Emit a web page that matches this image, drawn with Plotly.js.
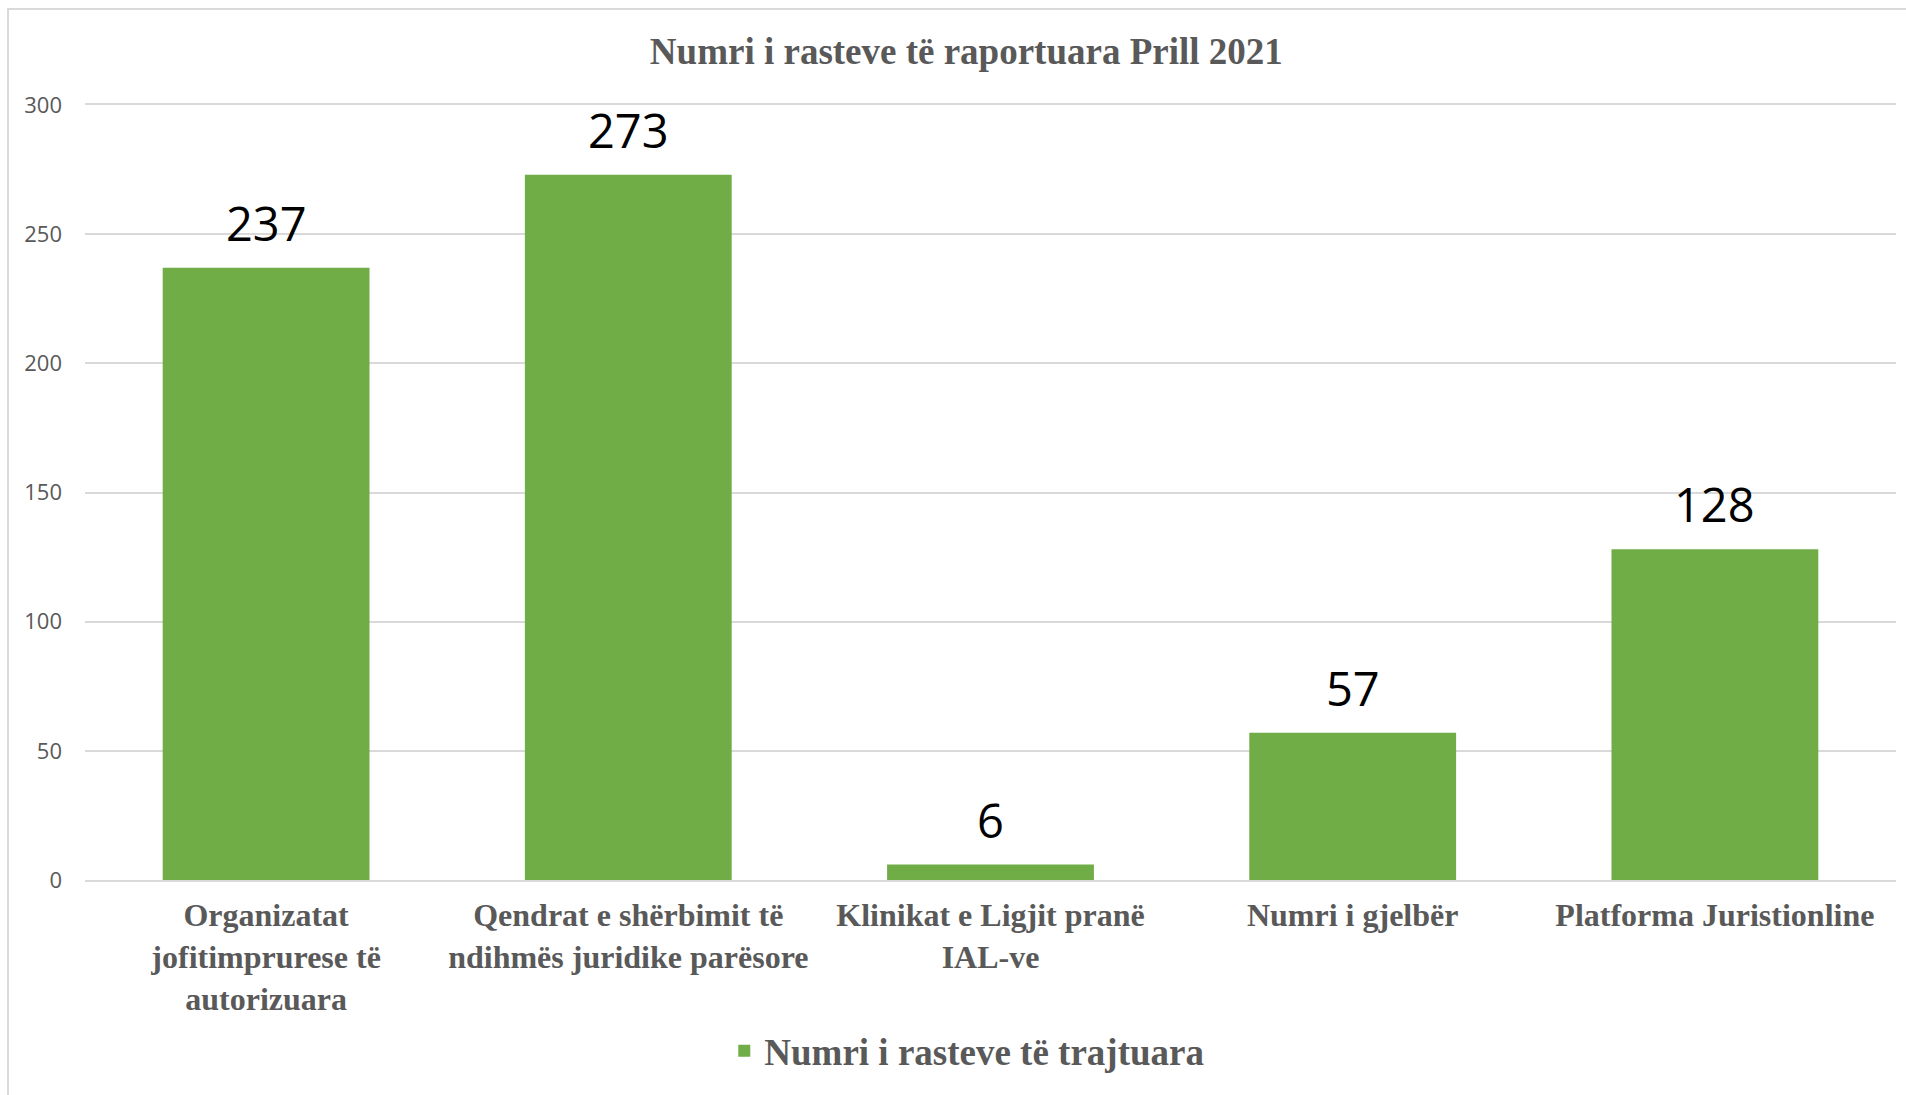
<!DOCTYPE html>
<html>
<head>
<meta charset="utf-8">
<script src="https://cdn.plot.ly/plotly-3.0.1.min.js"></script>
<style>
  html, body { margin: 0; padding: 0; background: #ffffff; overflow: hidden; }
  #chart { position: absolute; left: 0; top: 0; width: 1906px; height: 1095px; }
  #frame { position: absolute; left: 7px; top: 8px; width: 1940px; height: 1140px;
           border: 2px solid #d9d9d9; pointer-events: none; box-sizing: border-box; }
</style>
</head>
<body>
<div id="chart"></div>
<div id="frame"></div>
<script>
// ---- data ----
const categories = [
  "Organizatat<br>jofitimprurese të<br>autorizuara",
  "Qendrat e shërbimit të<br>ndihmës juridike parësore",
  "Klinikat e Ligjit pranë<br>IAL-ve",
  "Numri i gjelbër",
  "Platforma Juristionline"
];
const values = [237, 273, 6, 57, 128];
const seriesName = "Numri i rasteve të trajtuara";
const chartTitle = "Numri i rasteve të raportuara Prill 2021";
const yTicks = [0, 50, 100, 150, 200, 250, 300];

// ---- styles ----
const green = "#70ad47";
const grey = "#595959";
const serif = "'Liberation Serif', 'Times New Roman', serif";
const sans = "'Open Sans', 'Noto Sans', sans-serif";

const trace = {
  type: "bar",
  x: categories,
  y: values,
  name: seriesName,
  marker: { color: green, line: { width: 0 } },
  showlegend: true,
  hoverinfo: "skip"
};

const annotations = categories.map((c, i) => ({
  x: c,
  y: values[i],
  xref: "x",
  yref: "y",
  text: String(values[i]),
  showarrow: false,
  yanchor: "bottom",
  yshift: 11,
  font: { family: sans, size: 47, color: "#000000" }
}));

const layout = {
  width: 1906,
  height: 1095,
  paper_bgcolor: "#ffffff",
  plot_bgcolor: "#ffffff",
  margin: { l: 85, r: 10, t: 105, b: 215, pad: 0 },
  bargap: 0.429,
  title: {
    text: chartTitle,
    font: { family: serif, size: 37, color: grey, weight: "bold" },
    xref: "container",
    x: 0.507,
    xanchor: "center",
    yref: "container",
    y: 0.9534,
    yanchor: "middle"
  },
  xaxis: {
    type: "category",
    showgrid: false,
    showline: true,
    mirror: true,
    linecolor: "#d9d9d9",
    linewidth: 2,
    zeroline: false,
    ticks: "",
    ticklabelstandoff: 6,
    tickfont: { family: serif, size: 32, color: grey, weight: "bold" },
    fixedrange: true
  },
  yaxis: {
    range: [0, 300],
    tickvals: yTicks,
    ticktext: yTicks.map(String),
    showgrid: true,
    gridcolor: "#d9d9d9",
    gridwidth: 2,
    zeroline: false,
    showline: false,
    ticks: "",
    ticklabelstandoff: 22,
    tickfont: { family: sans, size: 22, color: grey },
    fixedrange: true
  },
  legend: {
    orientation: "h",
    xref: "paper",
    yref: "paper",
    x: 0.353,
    xanchor: "left",
    y: -0.221,
    yanchor: "middle",
    font: { family: serif, size: 37, color: grey, weight: "bold" },
    bgcolor: "rgba(0,0,0,0)",
    borderwidth: 0
  },
  annotations: annotations,
  hovermode: false
};

Plotly.newPlot("chart", [trace], layout, { displayModeBar: false, staticPlot: true });
</script>
</body>
</html>
